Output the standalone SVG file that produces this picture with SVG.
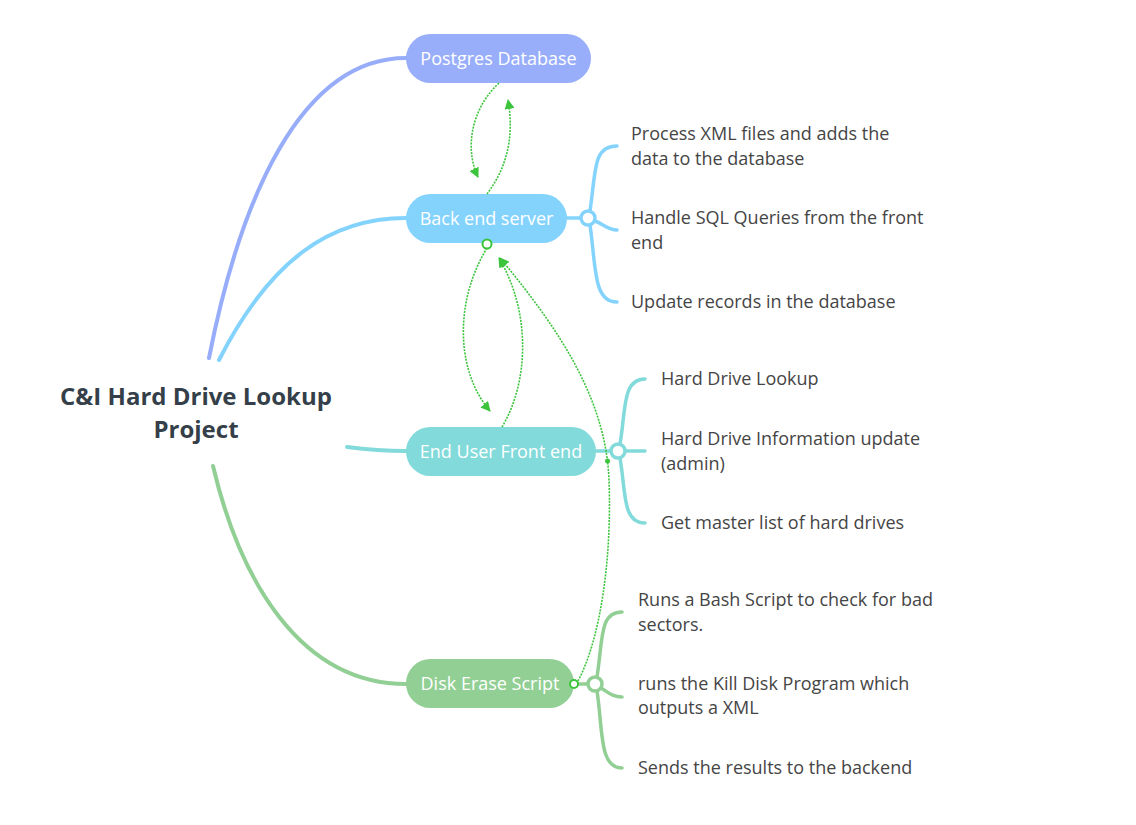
<svg xmlns="http://www.w3.org/2000/svg" width="1136" height="825" viewBox="0 0 1136 825">
<style>
.br{fill:none;stroke-width:4;stroke-linecap:round}
.sb{fill:none;stroke-width:3.5;stroke-linecap:round}
.pill text{font-family:"Open Sans","Noto Sans",sans-serif;font-size:18px;fill:#fff;text-anchor:middle}
.leaf{font-family:"Open Sans","Noto Sans",sans-serif;font-size:18px;fill:#454545}
.title{font-family:"Open Sans","Noto Sans",sans-serif;font-size:24px;font-weight:bold;fill:#353f49;text-anchor:middle}
.cn{fill:none;stroke:#3cc43c;stroke-width:1.6;stroke-dasharray:2 1.2}
.knob{fill:#fff;stroke-width:3.5}
</style>
<defs>
<marker id="ah" viewBox="0 0 10 10" refX="9" refY="5" markerWidth="10" markerHeight="10" markerUnits="userSpaceOnUse" orient="auto">
<path d="M0,0 L10,5 L0,10 Z" fill="#3cc43c"/>
</marker>
</defs>
<rect width="1136" height="825" fill="#fff"/>

<g id="root">
<text class="title" x="196" y="405">C&amp;I Hard Drive Lookup</text>
<text class="title" x="196" y="438">Project</text>
</g>

<g id="branches">
<path class="br" stroke="#97adfa" d="M209,358 C 240,200 300,58 406,58"/>
<path class="br" stroke="#84d3fd" d="M219,360 C 270,260 330,218 406,218"/>
<path class="br" stroke="#82dada" d="M347,447 C 370,450 390,451 406,451"/>
<path class="br" stroke="#92cf94" d="M213,466 C 240,580 300,684 406,684"/>
</g>

<g id="node-postgres" class="pill">
<rect x="406" y="34" width="185" height="49" rx="24.5" fill="#99aefa"/>
<text x="498.5" y="65">Postgres Database</text>
</g>

<g id="node-backend" class="pill">
<rect x="406" y="194" width="161" height="49" rx="24.5" fill="#84d3fd"/>
<text x="486.5" y="225">Back end server</text>
</g>

<g id="node-frontend" class="pill">
<rect x="406" y="427" width="190" height="49" rx="24.5" fill="#82dada"/>
<text x="501" y="458">End User Front end</text>
</g>

<g id="node-disk" class="pill">
<rect x="406" y="659" width="168" height="49" rx="24.5" fill="#92cf94"/>
<text x="490" y="690">Disk Erase Script</text>
</g>

<g id="backend-subtopics">
<path class="sb" stroke="#84d3fd" d="M567,218 L582,218"/>
<path class="sb" stroke="#84d3fd" d="M590,211 C 596,170 593,146 617,146"/>
<path class="sb" stroke="#84d3fd" d="M590,225 C 596,266 593,302 617,302"/>
<path class="sb" stroke="#84d3fd" d="M595,221 C 603,224 608,230 617,230"/>
<circle class="knob" cx="588" cy="218" r="7" stroke="#84d3fd"/>
<text class="leaf" x="631" y="140">Process XML files and adds the</text>
<text class="leaf" x="631" y="165">data to the database</text>
<text class="leaf" x="631" y="224">Handle SQL Queries from the front</text>
<text class="leaf" x="631" y="249">end</text>
<text class="leaf" x="631" y="308">Update records in the database</text>
</g>

<g id="frontend-subtopics">
<path class="sb" stroke="#82dada" d="M596,451 L612,451"/>
<path class="sb" stroke="#82dada" d="M620,444 C 626,410 622,379 645,379"/>
<path class="sb" stroke="#82dada" d="M620,458 C 626,492 622,523 645,523"/>
<path class="sb" stroke="#82dada" d="M625,451 L645,451"/>
<circle class="knob" cx="618" cy="451" r="7" stroke="#82dada"/>
<text class="leaf" x="661" y="385">Hard Drive Lookup</text>
<text class="leaf" x="661" y="445">Hard Drive Information update</text>
<text class="leaf" x="661" y="470">(admin)</text>
<text class="leaf" x="661" y="529">Get master list of hard drives</text>
</g>

<g id="disk-subtopics">
<path class="sb" stroke="#92cf94" d="M574,684 L589,684"/>
<path class="sb" stroke="#92cf94" d="M597,677 C 603,640 599,612 622,612"/>
<path class="sb" stroke="#92cf94" d="M597,691 C 603,730 599,768 622,768"/>
<path class="sb" stroke="#92cf94" d="M601,688 C 608,692 612,697 622,697"/>
<circle class="knob" cx="595" cy="684" r="7" stroke="#92cf94"/>
<text class="leaf" x="638" y="606">Runs a Bash Script to check for bad</text>
<text class="leaf" x="638" y="631">sectors.</text>
<text class="leaf" x="638" y="690">runs the Kill Disk Program which</text>
<text class="leaf" x="638" y="714">outputs a XML</text>
<text class="leaf" x="638" y="774">Sends the results to the backend</text>
</g>

<g id="connectors">
<path class="cn" marker-end="url(#ah)" d="M499,83 C 470,110 465,150 478,177"/>
<path class="cn" marker-end="url(#ah)" d="M487,194 C 505,170 515,140 508,100"/>
<path class="cn" marker-end="url(#ah)" d="M487,248 C 455,300 455,370 490,411"/>
<path class="cn" marker-end="url(#ah)" d="M502,427 C 530,380 530,310 499,258"/>
<path class="cn" marker-end="url(#ah)" d="M578,681 C 600,640 612,560 609,480 S 560,330 500,258"/>
<circle cx="487" cy="244" r="4.5" fill="#fff" stroke="#3cc43c" stroke-width="2"/>
<circle cx="574" cy="684" r="4" fill="#fff" stroke="#3cc43c" stroke-width="2"/>
<circle cx="607.5" cy="461" r="2.5" fill="#3cc43c"/>
</g>
</svg>
